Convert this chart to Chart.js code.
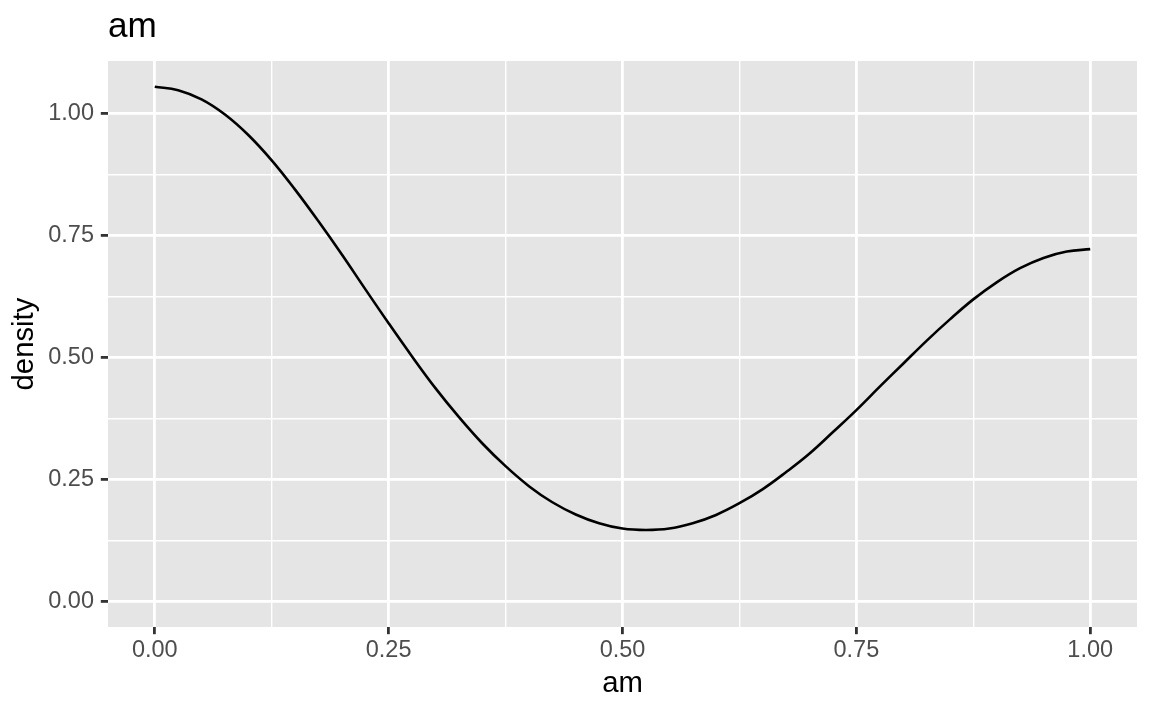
<!DOCTYPE html>
<html>
<head>
<meta charset="utf-8">
<script src="https://cdn.jsdelivr.net/npm/chart.js@4/dist/chart.umd.min.js"></script>
<style>
  html, body { margin: 0; padding: 0; background: #ffffff; }
  #chart { display: block; }
</style>
</head>
<body>
<canvas id="chart" width="1152" height="711"></canvas>
<script>
// density of am
const amValues = [
  0.000, 0.025, 0.050, 0.075, 0.100, 0.125, 0.150, 0.175, 0.200, 0.225,
  0.250, 0.275, 0.300, 0.325, 0.350, 0.375, 0.400, 0.425, 0.450, 0.475,
  0.500, 0.525, 0.550, 0.575, 0.600, 0.625, 0.650, 0.675, 0.700, 0.725,
  0.750, 0.775, 0.800, 0.825, 0.850, 0.875, 0.900, 0.925, 0.950, 0.975,
  1.000
];
const densityValues = [
  1.055, 1.048, 1.029, 0.998, 0.956, 0.904, 0.844, 0.779, 0.711, 0.640,
  0.570, 0.502, 0.437, 0.378, 0.324, 0.277, 0.236, 0.203, 0.178, 0.160,
  0.149, 0.146, 0.149, 0.160, 0.177, 0.201, 0.230, 0.265, 0.303, 0.347,
  0.392, 0.440, 0.487, 0.534, 0.578, 0.619, 0.654, 0.683, 0.704, 0.717,
  0.722
];
const xTickLabels = ['0.00', '0.25', '0.50', '0.75', '1.00'];
const yTickLabels = ['0.00', '0.25', '0.50', '0.75', '1.00'];

const PANEL_BG = '#E5E5E5';
const TICK_TEXT = '#4D4D4D';
const TICK_MARK = '#333333';

Chart.defaults.font.family = '"Liberation Sans", Arial, Helvetica, sans-serif';

const isMajor = v => Math.abs(v / 0.25 - Math.round(v / 0.25)) < 1e-6;
const majorLabel = (labels) => (value) => {
  if (!isMajor(value)) return '';
  return labels[Math.round(value / 0.25)] ?? '';
};

const panelBackground = {
  id: 'panelBackground',
  beforeDraw(chart) {
    const { ctx, chartArea: a } = chart;
    ctx.save();
    ctx.fillStyle = PANEL_BG;
    ctx.fillRect(a.left, a.top, a.right - a.left, a.bottom - a.top);
    ctx.restore();
  }
};

const gridStyle = {
  color: '#ffffff',
  lineWidth: (c) => isMajor(c.tick.value) ? 2.8 : 1.4,
  tickColor: (c) => isMajor(c.tick.value) ? TICK_MARK : 'rgba(0,0,0,0)',
  tickWidth: 2.8,
  tickLength: 7.2,
  drawOnChartArea: true
};

new Chart(document.getElementById('chart'), {
  type: 'line',
  data: {
    datasets: [{
      data: amValues.map((x, i) => ({ x: x, y: densityValues[i] })),
      borderColor: '#000000',
      borderWidth: 2.6,
      pointRadius: 0,
      fill: false,
      tension: 0.4
    }]
  },
  options: {
    responsive: false,
    animation: false,
    devicePixelRatio: 1,
    layout: { padding: { left: 0, right: 15, top: 0, bottom: 0 } },
    scales: {
      x: {
        type: 'linear',
        min: -0.05,
        max: 1.05,
        afterFit: (s) => { s.height = 84; },
        border: { display: false },
        grid: gridStyle,
        ticks: {
          stepSize: 0.125,
          includeBounds: false,
          autoSkip: false,
          maxRotation: 0,
          color: TICK_TEXT,
          font: { size: 23.5 },
          padding: 2.5,
          callback: majorLabel(xTickLabels)
        },
        title: {
          display: true,
          text: 'am',
          color: '#000000',
          font: { size: 29.3 },
          padding: { top: 0, bottom: 10 }
        }
      },
      y: {
        type: 'linear',
        min: -0.0528,
        max: 1.1077,
        afterFit: (s) => { s.width = 108; },
        border: { display: false },
        grid: gridStyle,
        ticks: {
          stepSize: 0.125,
          includeBounds: false,
          autoSkip: false,
          color: TICK_TEXT,
          font: { size: 23.5 },
          padding: 6.8,
          callback: majorLabel(yTickLabels)
        },
        title: {
          display: true,
          text: 'density',
          color: '#000000',
          font: { size: 29.3 },
          padding: { top: 7, bottom: 0 }
        }
      }
    },
    plugins: {
      legend: { display: false },
      tooltip: { enabled: false },
      title: {
        display: true,
        text: 'am',
        align: 'start',
        fullSize: false,
        color: '#000000',
        font: { size: 35.2, weight: 'normal' },
        padding: { top: 6.5, bottom: 12.3 }
      }
    }
  },
  plugins: [panelBackground]
});
</script>
</body>
</html>
